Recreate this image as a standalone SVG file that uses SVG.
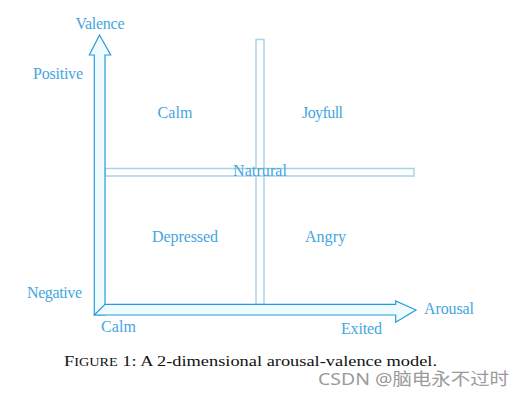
<svg xmlns="http://www.w3.org/2000/svg" width="525" height="397" viewBox="0 0 525 397">
<style>
.lbl{font-family:"Liberation Serif","DejaVu Serif",serif;font-size:16px;fill:#45a5e0}
.arrow{fill:#effcff;stroke:#2d9ad6;stroke-width:1.2}
.bar{fill:#ffffff;stroke:#a9d3e8;stroke-width:1.5}
.cap{font-family:"Liberation Serif","DejaVu Serif",serif;font-size:15.5px;fill:#111}
.wm{font-family:"Noto Sans","Noto Sans CJK SC",sans-serif;font-size:17px;fill:#9a9a9a}
</style>
<rect width="525" height="397" fill="#ffffff"/>
<g id="connectors">
<rect id="vbar" class="bar" x="256" y="39.5" width="8" height="265"/>
<rect id="hbar" class="bar" x="105" y="168.5" width="309" height="7.5"/>
<polygon id="valence-axis" class="arrow" points="94.3,315 94.3,55 89.3,55 99.5,35 110.7,55 105,55 105,315"/>
<polygon id="arousal-axis" class="arrow" points="105,304.3 395.7,304.3 395.7,301 416,310 395.7,322.3 395.7,315 94.3,315 105,304.3"/>
</g>
<g id="valence"><text class="lbl" x="100" y="29" text-anchor="middle" textLength="49">Valence</text></g>
<g id="positive"><text class="lbl" x="58" y="79" text-anchor="middle" textLength="50">Positive</text></g>
<g id="negative"><text class="lbl" x="54.5" y="298" text-anchor="middle" textLength="55">Negative</text></g>
<g id="calm-q"><text class="lbl" x="175" y="118" text-anchor="middle" textLength="35">Calm</text></g>
<g id="joyfull"><text class="lbl" x="322.5" y="118" text-anchor="middle" textLength="41">Joyfull</text></g>
<g id="natrural"><text class="lbl" x="260" y="176" text-anchor="middle" textLength="54">Natrural</text></g>
<g id="depressed"><text class="lbl" x="185" y="242" text-anchor="middle" textLength="66">Depressed</text></g>
<g id="angry"><text class="lbl" x="325.5" y="242" text-anchor="middle" textLength="41">Angry</text></g>
<g id="calm-x"><text class="lbl" x="118.5" y="332" text-anchor="middle" textLength="35">Calm</text></g>
<g id="exited"><text class="lbl" x="361.5" y="334" text-anchor="middle" textLength="41">Exited</text></g>
<g id="arousal"><text class="lbl" x="449" y="314" text-anchor="middle" textLength="50">Arousal</text></g>
<text class="cap" x="64" y="365.5" textLength="373" lengthAdjust="spacingAndGlyphs">F<tspan font-size="12px">IGURE</tspan> 1: A 2-dimensional arousal-valence model.</text>
<text class="wm" x="318" y="385" textLength="191" lengthAdjust="spacingAndGlyphs">CSDN @脑电永不过时</text>
</svg>
